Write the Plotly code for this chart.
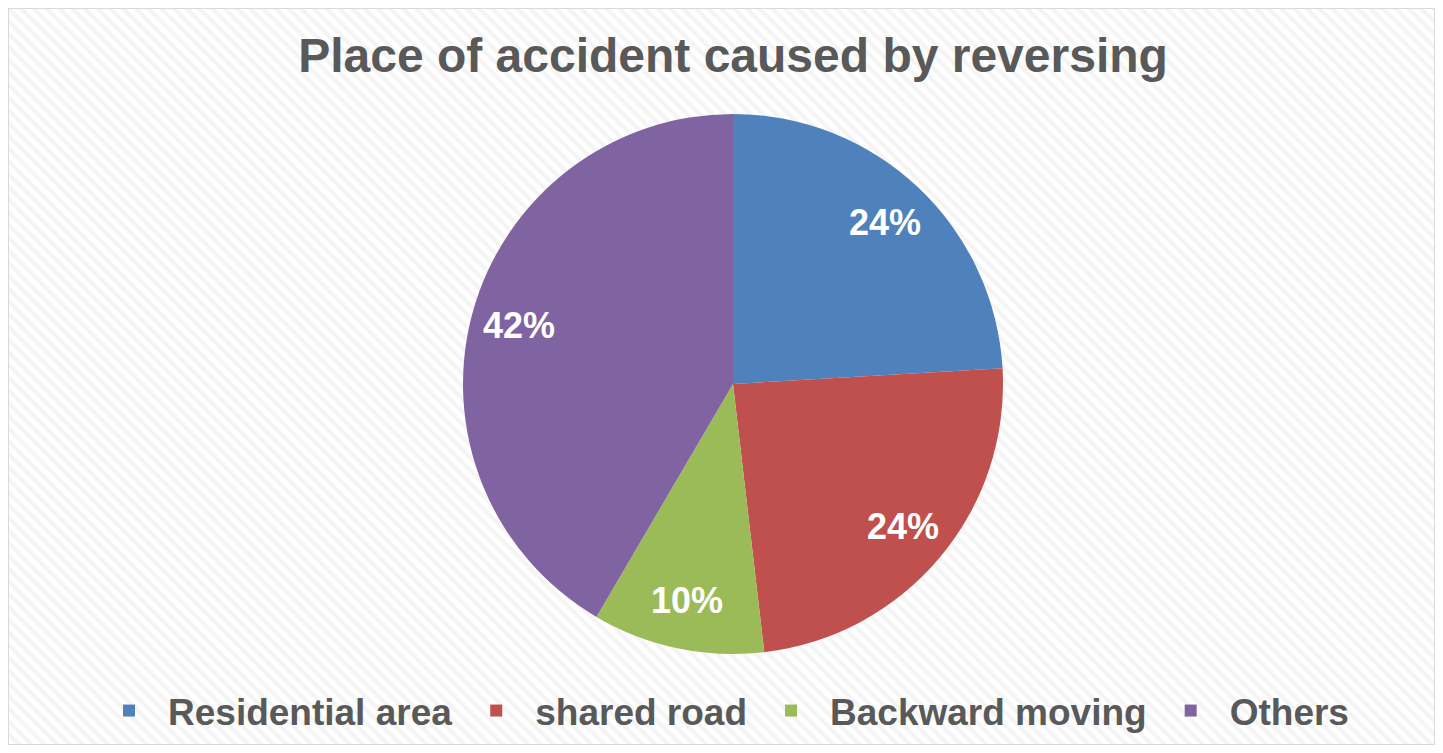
import math
import plotly.graph_objects as go

categories = ["Residential area", "shared road", "Backward moving", "Others"]
values = [24.1, 24.1, 10.3, 41.6]
colors = ["#4F81BD", "#C0504D", "#9BBB59", "#8064A2"]
title_text = "Place of accident caused by reversing"

# page has an 8px body margin; figure is sized to fit inside it
OFF = 8
W, H = 1443 - 2 * OFF, 753 - 2 * OFF
FONT = "Liberation Sans, Arial, sans-serif"


def px(x):
    return (x - OFF) / W


def py(y):
    return 1 - (y - OFF) / H


fig = go.Figure()

# hatched background
fig.add_trace(go.Scatter(
    x=[0, 1, 1, 0, 0], y=[0, 0, 1, 1, 0], mode="lines", fill="toself",
    line=dict(width=0), fillcolor="white",
    fillpattern=dict(shape="\\", fgcolor="#e9e9e9", bgcolor="white", size=9, solidity=0.45),
    hoverinfo="skip", showlegend=False,
))

cx, cy, r = 733, 384, 270
fig.add_trace(go.Pie(
    labels=categories, values=values, sort=False, direction="clockwise", rotation=0,
    marker=dict(colors=colors, line=dict(color="white", width=0)),
    textinfo="none", textposition="none",
    domain=dict(x=[px(cx - r), px(cx + r)], y=[py(cy + r), py(cy - r)]),
    hoverinfo="label+percent",
))

# data labels placed along each slice's mid angle (Excel style, ~0.82 r)
total = sum(values)
annotations = []
cum = 0.0
for v in values:
    mid = (cum + v / 2) / total * 2 * math.pi
    cum += v
    lx = cx + 0.82 * r * math.sin(mid)
    ly = cy - 0.82 * r * math.cos(mid)
    annotations.append(dict(
        x=px(lx), y=py(ly), xref="paper", yref="paper", showarrow=False,
        text=f"{round(v / total * 100)}%", xanchor="center", yanchor="middle",
        font=dict(family=FONT, size=36, color="white", weight="bold"),
    ))

# soft shadow around pie
shapes = []
for k, a in [(7, 0.015), (5, 0.02), (3, 0.03), (1.5, 0.04)]:
    shapes.append(dict(type="circle", xref="paper", yref="paper",
                       x0=px(cx - r - k), x1=px(cx + r + k),
                       y0=py(cy + r + k + 1), y1=py(cy - r - k + 1),
                       fillcolor=f"rgba(0,0,0,{a})", line=dict(width=0), layer="below"))

shapes += [
    dict(type="rect", xref="paper", yref="paper", x0=px(80), x1=px(1385),
         y0=py(740), y1=py(682), fillcolor="rgba(255,255,255,0.9)",
         line=dict(width=0), layer="below"),
    dict(type="rect", xref="paper", yref="paper", x0=0, x1=1,
         y0=0, y1=1, line=dict(color="#d9d9d9", width=2),
         fillcolor="rgba(0,0,0,0)", layer="above"),
]

fig.update_layout(
    width=W, height=H,
    margin=dict(l=0, r=0, t=0, b=0),
    paper_bgcolor="white", plot_bgcolor="white",
    xaxis=dict(range=[0, 1], domain=[0, 1], visible=False, fixedrange=True),
    yaxis=dict(range=[0, 1], domain=[0, 1], visible=False, fixedrange=True),
    title=dict(text=title_text, x=px(733), xanchor="center", y=py(55), yanchor="middle",
               font=dict(family=FONT, size=48, color="#595959", weight="bold")),
    legend=dict(orientation="h", x=px(722), xanchor="center", y=py(711), yanchor="middle",
                font=dict(family=FONT, size=37, color="#595959", weight="bold"),
                bgcolor="rgba(0,0,0,0)", itemwidth=68),
    shapes=shapes,
    annotations=annotations,
)

fig.write_html("out.html")
